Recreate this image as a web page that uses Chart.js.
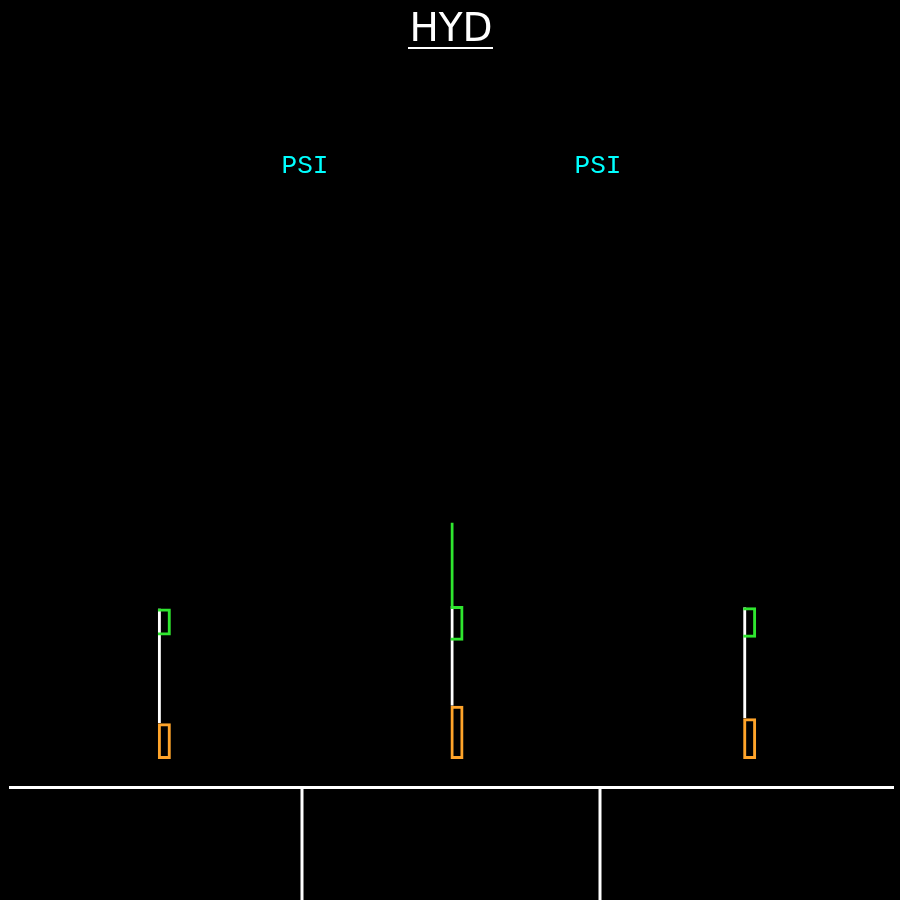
<!DOCTYPE html>
<html>
<head>
<meta charset="utf-8">
<script src="https://cdn.jsdelivr.net/npm/chart.js@4/dist/chart.umd.min.js"></script>
<style>
  html, body { margin: 0; padding: 0; background: #000; }
  #wrap { width: 900px; height: 900px; }
</style>
</head>
<body>
<div id="wrap"><canvas id="c" width="900" height="900"></canvas></div>
<script>
// ---- data (psi) ----
const systems   = ['SYS 1', 'SYS 2', 'SYS 3'];
const lowMax    = [1190, 1770, 1350];   // amber low-pressure zone upper limit
const normMin   = [4100, 3930, 4030];   // green normal band lower limit
const normMax   = [5000, 5080, 5040];   // green normal band upper limit
const pressure  = [null, 7860, null];   // actual pressure indicator
const pageTitle = 'HYD';
const unitLabel = 'PSI';
const scaleMin  = 0;
const scaleMax  = 10000;

const GREEN = '#2fe62f';
const AMBER = '#ffa42a';
const WHITE = '#ffffff';
const CYAN  = '#00ffff';

const framePlugin = {
  id: 'frame',
  beforeDraw(chart) {
    const ctx = chart.ctx;
    ctx.save();
    ctx.fillStyle = '#000';
    ctx.fillRect(0, 0, chart.width, chart.height);
    ctx.restore();
  },
  afterDraw(chart) {
    const ctx = chart.ctx;
    ctx.save();
    // title
    ctx.fillStyle = WHITE;
    ctx.font = '39px "DejaVu Sans"';
    ctx.textAlign = 'center';
    ctx.textBaseline = 'alphabetic';
    ctx.fillText(pageTitle, 451, 41);
    ctx.fillRect(408, 47, 85, 2);
    // unit labels
    ctx.fillStyle = CYAN;
    ctx.font = '26px "Liberation Mono"';
    ctx.fillText(unitLabel, 305, 173);
    ctx.fillText(unitLabel, 598, 173);
    // frame lines
    ctx.strokeStyle = WHITE;
    ctx.lineWidth = 3;
    ctx.beginPath();
    ctx.moveTo(9, 787.5); ctx.lineTo(894, 787.5);
    ctx.moveTo(302, 787.5); ctx.lineTo(302, 900);
    ctx.moveTo(600, 787.5); ctx.lineTo(600, 900);
    ctx.stroke();
    ctx.restore();
  }
};

const common = {
  grouped: false,
  barThickness: 13,
  inflateAmount: 0,
  borderSkipped: false,
  backgroundColor: 'rgba(0,0,0,0)'
};

new Chart(document.getElementById('c'), {
  type: 'bar',
  data: {
    labels: systems,
    datasets: [
      Object.assign({
        label: 'Normal band',
        data: normMin.map((v, i) => [v, normMax[i]]),
        borderColor: GREEN,
        borderWidth: { top: 3, right: 3, bottom: 3, left: 0 }
      }, common),
      Object.assign({
        label: 'Low band',
        data: lowMax.map(v => [scaleMin, v]),
        borderColor: AMBER,
        borderWidth: 3
      }, common),
      Object.assign({
        label: 'Pressure',
        data: pressure.map((p, i) => p == null ? null : [normMax[i], p]),
        borderColor: GREEN,
        borderWidth: { top: 0, right: 0, bottom: 0, left: 3 }
      }, common),
      Object.assign({
        label: 'Scale',
        data: lowMax.map((v, i) => [v, normMax[i]]),
        borderColor: WHITE,
        borderWidth: { top: 0, right: 0, bottom: 0, left: 3 }
      }, common)
    ]
  },
  options: {
    responsive: false,
    animation: false,
    events: [],
    layout: { padding: { left: 18, right: 4, top: 458, bottom: 141 } },
    plugins: { legend: { display: false }, tooltip: { enabled: false }, title: { display: false } },
    scales: {
      x: { display: false, offset: true },
      y: { display: false, min: scaleMin, max: scaleMax }
    }
  },
  plugins: [framePlugin]
});
</script>
</body>
</html>
